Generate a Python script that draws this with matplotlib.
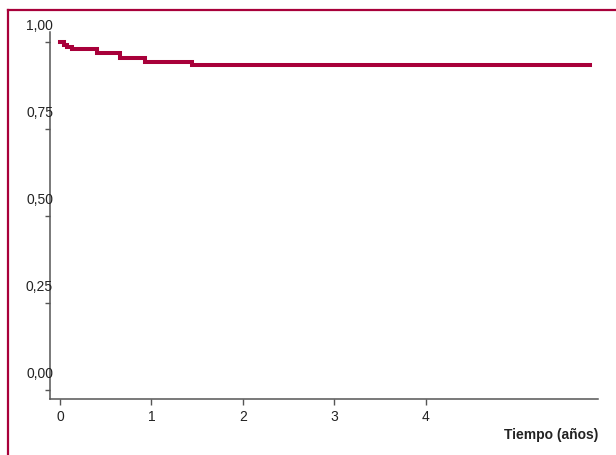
import matplotlib
matplotlib.use('Agg')
import matplotlib.pyplot as plt
from matplotlib.lines import Line2D

# Kaplan-Meier estimate
tiempo = [0.0, 0.044, 0.073, 0.128, 0.408, 0.656, 0.929, 1.44, 5.79]
supervivencia = [1.0, 0.993, 0.987, 0.980, 0.970, 0.954, 0.943, 0.935, 0.935]

x_ticks = [0, 1, 2, 3, 4]
y_ticks = [0.0, 0.25, 0.50, 0.75, 1.0]
y_labels = ['0,00', '0,25', '0,50', '0,75', '1,00']
x_label = 'Tiempo (años)'

red = '#a8003a'
axis_grey = '#555555'

plt.rcParams['font.family'] = ['Liberation Sans', 'DejaVu Sans']

fig = plt.figure(figsize=(6.16, 4.55), dpi=100)
ax = fig.add_axes([50 / 616, 1 - 399 / 455, 548 / 616, 367 / 455])

ax.step(tiempo, supervivencia, where='post', color=red, lw=2.9, solid_joinstyle='miter')

ax.set_xlim(-0.109, 5.88)
ax.set_ylim(-0.026, 1.03)

for side in ['top', 'right']:
    ax.spines[side].set_visible(False)
for side in ['left', 'bottom']:
    ax.spines[side].set_color(axis_grey)
    ax.spines[side].set_linewidth(1.1)

ax.set_xticks(x_ticks)
ax.set_xticklabels([str(t) for t in x_ticks], fontsize=10, color='#222222')
ax.tick_params(axis='x', length=4.3, width=1, color=axis_grey, pad=3.5)

ax.set_yticks(y_ticks)
ax.set_yticklabels([])
ax.tick_params(axis='y', length=3.6, width=1, color=axis_grey)

# y labels sit above their ticks, overlapping the axis line
for val, lab in zip(y_ticks, y_labels):
    ax.annotate(lab, xy=(0, val), xycoords=('axes fraction', 'data'),
                xytext=(2.2, 11.5), textcoords='offset points',
                ha='right', va='center', fontsize=10, color='#222222')

ax.annotate(x_label, xy=(1, 0), xycoords='axes fraction',
            xytext=(0, -26), textcoords='offset points',
            ha='right', va='center', fontsize=10, fontweight='bold', color='#222222')

# frame round the figure (only left and top edges show)
fx = 8 / 616
fy = 1 - 10 / 455
fig.add_artist(Line2D([fx, fx], [0, fy], transform=fig.transFigure, color=red, lw=1.6))
fig.add_artist(Line2D([fx, 1], [fy, fy], transform=fig.transFigure, color=red, lw=1.6))

fig.savefig('out.png', dpi=100)
